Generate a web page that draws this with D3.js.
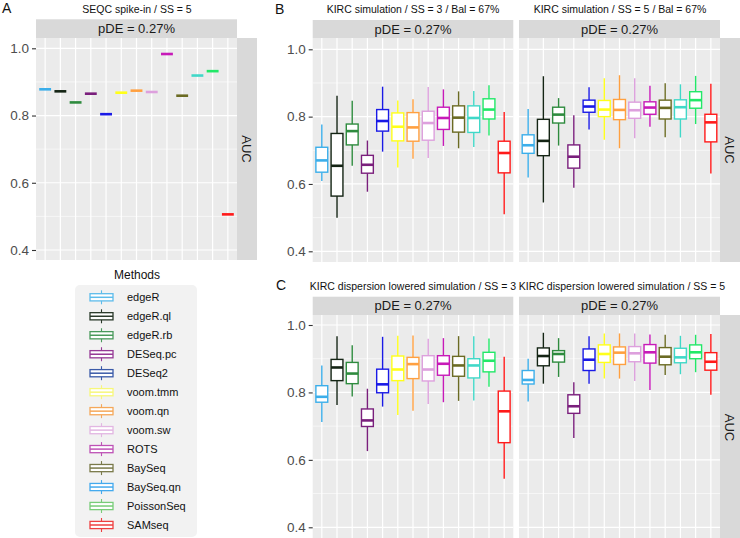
<!DOCTYPE html>
<html><head><meta charset="utf-8">
<script src="https://cdn.jsdelivr.net/npm/d3@7"></script>
<style>body{margin:0;background:#fff}svg{display:block;font-family:"Liberation Sans",Arial,sans-serif}</style>
</head><body><svg id="c" width="740" height="538"></svg>
<script>
const methods = ["edgeR","edgeR.ql","edgeR.rb","DESeq.pc","DESeq2","voom.tmm","voom.qn","voom.sw","ROTS","BaySeq","BaySeq.qn","PoissonSeq","SAMseq"];
const colors = ["#3BAEEA","#142414","#2E8B3E","#7A1F7C","#1A1AE6","#FFFF1A","#FFA040","#DDA0DD","#C71AB8","#6B6B23","#40D8C8","#22E868","#FF1A1A"];
const legendColors = ["#5DBCEB","#2A3A2A","#4A9A5C","#963A96","#3A5AA8","#F7F77A","#F5A85A","#E2B6E2","#BE52B6","#7A7A4A","#44AAEE","#78CC78","#EE4040"];
const yTicks = [0.4, 0.6, 0.8, 1.0];
const yMinor = [0.5, 0.7, 0.9];
// Panel A: single AUC value per method
const seqcSS5 = [0.878,0.872,0.839,0.865,0.804,0.868,0.874,0.870,0.983,0.859,0.919,0.932,0.506];
// [lower whisker, Q1, median, Q3, upper whisker]
const kircSS3 = [
 [0.609,0.635,0.670,0.709,0.777],[0.500,0.564,0.654,0.750,0.862],[0.654,0.716,0.757,0.778,0.847],
 [0.577,0.632,0.657,0.685,0.729],[0.696,0.757,0.787,0.821,0.889],[0.649,0.728,0.770,0.811,0.848],
 [0.675,0.727,0.768,0.812,0.852],[0.677,0.730,0.781,0.816,0.888],[0.713,0.762,0.796,0.828,0.881],
 [0.706,0.754,0.797,0.832,0.875],[0.710,0.753,0.796,0.832,0.876],[0.744,0.793,0.821,0.853,0.893],
 [0.510,0.633,0.692,0.727,0.814]];
const kircSS5 = [
 [0.619,0.691,0.715,0.746,0.823],[0.545,0.684,0.728,0.792,0.920],[0.714,0.781,0.806,0.828,0.855],
 [0.589,0.647,0.681,0.716,0.804],[0.762,0.813,0.830,0.849,0.887],[0.731,0.800,0.821,0.848,0.914],
 [0.706,0.791,0.820,0.851,0.923],[0.736,0.795,0.819,0.843,0.914],[0.770,0.807,0.827,0.844,0.892],
 [0.739,0.793,0.826,0.849,0.899],[0.738,0.793,0.828,0.850,0.896],[0.778,0.825,0.849,0.874,0.921],
 [0.631,0.725,0.783,0.807,0.898]];
const dispSS3 = [
 [0.712,0.771,0.787,0.820,0.880],[0.763,0.835,0.874,0.898,0.967],[0.788,0.826,0.856,0.889,0.940],
 [0.626,0.699,0.717,0.751,0.811],[0.758,0.799,0.824,0.869,0.965],[0.733,0.835,0.868,0.908,0.968],
 [0.746,0.841,0.884,0.904,0.969],[0.766,0.834,0.868,0.909,0.959],[0.771,0.851,0.885,0.909,0.961],
 [0.775,0.848,0.880,0.907,0.967],[0.776,0.843,0.880,0.900,0.967],[0.817,0.861,0.894,0.919,0.960],
 [0.544,0.651,0.744,0.804,0.906]];
const dispSS5 = [
 [0.773,0.825,0.837,0.865,0.900],[0.826,0.879,0.908,0.932,0.977],[0.846,0.890,0.914,0.924,0.961],
 [0.665,0.738,0.759,0.793,0.830],[0.826,0.865,0.897,0.929,0.967],[0.841,0.889,0.914,0.941,0.975],
 [0.841,0.883,0.918,0.935,0.975],[0.834,0.891,0.916,0.936,0.975],[0.807,0.887,0.919,0.942,0.972],
 [0.852,0.882,0.906,0.933,0.971],[0.854,0.888,0.904,0.931,0.968],[0.860,0.900,0.919,0.941,0.971],
 [0.793,0.866,0.891,0.918,0.973]];

const svg = d3.select("#c");
const panelBg = "#EBEBEB", stripBg = "#D9D9D9";

function panel(p){
  const g = svg.append("g");
  const x = d3.scalePoint().domain(methods).range([p.x0, p.x1]).padding(0.6);
  const y = d3.scaleLinear().domain([0.4, 1.0]).range([p.t04, p.t10]);
  const bw = x.step() * 0.78;
  g.append("rect").attr("x", p.x0).attr("y", p.y0).attr("width", p.x1 - p.x0).attr("height", p.y1 - p.y0).attr("fill", panelBg);
  g.selectAll(".mn").data(yMinor).join("line").attr("x1", p.x0).attr("x2", p.x1)
    .attr("y1", d => y(d)).attr("y2", d => y(d)).attr("stroke", "#fff").attr("stroke-width", 0.6);
  g.selectAll(".mj").data(yTicks).join("line").attr("x1", p.x0).attr("x2", p.x1)
    .attr("y1", d => y(d)).attr("y2", d => y(d)).attr("stroke", "#fff").attr("stroke-width", 1.2);
  g.selectAll(".vx").data(methods).join("line").attr("x1", d => x(d)).attr("x2", d => x(d))
    .attr("y1", p.y0).attr("y2", p.y1).attr("stroke", "#fff").attr("stroke-width", 1.2);
  // strip top
  g.append("rect").attr("x", p.x0).attr("y", p.sy).attr("width", p.x1 - p.x0).attr("height", p.y0 - p.sy).attr("fill", stripBg);
  g.append("text").attr("x", (p.x0 + p.x1) / 2).attr("y", (p.sy + p.y0) / 2 + 4.6).attr("text-anchor", "middle")
    .attr("font-size", 13).attr("fill", "#1A1A1A").text("pDE = 0.27%");
  if (p.auc) {
    g.append("rect").attr("x", p.x1).attr("y", p.y0).attr("width", 20).attr("height", p.y1 - p.y0).attr("fill", stripBg);
    const cx = p.x1 + 10, cy = (p.y0 + p.y1) / 2;
    g.append("text").attr("transform", `translate(${cx - 4.6},${cy}) rotate(90)`).attr("text-anchor", "middle")
      .attr("font-size", 13).attr("fill", "#1A1A1A").text("AUC");
  }
  if (p.axis) {
    const ax = g.append("g").attr("transform", `translate(${p.x0},0)`)
      .call(d3.axisLeft(y).tickValues(yTicks).tickFormat(d3.format(".1f")).tickSize(4).tickPadding(3));
    ax.select(".domain").remove();
    ax.selectAll("line").attr("stroke", "#333").attr("stroke-width", 1.1);
    ax.selectAll("text").attr("font-size", 13.5).attr("fill", "#4D4D4D").attr("font-family", "Liberation Sans, Arial, sans-serif");
  }
  const boxes = p.data.map((d, i) => ({m: methods[i], c: colors[i], s: Array.isArray(d) ? d : [d, d, d, d, d]}));
  const bg = g.selectAll(".bx").data(boxes).join("g");
  bg.append("line").attr("x1", d => x(d.m)).attr("x2", d => x(d.m)).attr("y1", d => y(d.s[4])).attr("y2", d => y(d.s[3]))
    .attr("stroke", d => d.c).attr("stroke-width", 1.4);
  bg.append("line").attr("x1", d => x(d.m)).attr("x2", d => x(d.m)).attr("y1", d => y(d.s[1])).attr("y2", d => y(d.s[0]))
    .attr("stroke", d => d.c).attr("stroke-width", 1.4);
  bg.append("rect").attr("x", d => x(d.m) - bw / 2).attr("width", bw)
    .attr("y", d => y(d.s[3])).attr("height", d => y(d.s[1]) - y(d.s[3]))
    .attr("fill", "#fff").attr("stroke", d => d.c).attr("stroke-width", 1.4);
  bg.append("line").attr("x1", d => x(d.m) - bw / 2).attr("x2", d => x(d.m) + bw / 2)
    .attr("y1", d => y(d.s[2])).attr("y2", d => y(d.s[2])).attr("stroke", d => d.c).attr("stroke-width", 2.6);
}

panel({x0: 36, x1: 237, y0: 38, y1: 260, sy: 19.3, t10: 48.3, t04: 250, data: seqcSS5, axis: true, auc: true});
panel({x0: 312.7, x1: 513.3, y0: 38, y1: 262, sy: 20, t10: 49.3, t04: 251.3, data: kircSS3, axis: true});
panel({x0: 519, x1: 720, y0: 38, y1: 262, sy: 20, t10: 49.3, t04: 251.3, data: kircSS5, auc: true});
panel({x0: 312.7, x1: 513.3, y0: 315, y1: 540, sy: 296.7, t10: 325, t04: 527.3, data: dispSS3, axis: true});
panel({x0: 519, x1: 720, y0: 315, y1: 540, sy: 296.7, t10: 325, t04: 527.3, data: dispSS5, auc: true});

// titles
const titles = [
  {t: "SEQC spike-in / SS = 5", x: 137, y: 12.5},
  {t: "KIRC simulation / SS = 3 / Bal = 67%", x: 413, y: 13},
  {t: "KIRC simulation / SS = 5 / Bal = 67%", x: 620, y: 13},
  {t: "KIRC dispersion lowered simulation / SS = 3", x: 413, y: 289.5},
  {t: "KIRC dispersion lowered simulation / SS = 5", x: 622, y: 289.5}
];
svg.selectAll(".ttl").data(titles).join("text").attr("x", d => d.x).attr("y", d => d.y).attr("text-anchor", "middle")
  .attr("font-size", 10.5).attr("fill", "#111").text(d => d.t);
const letters = [{t: "A", x: 2, y: 13}, {t: "B", x: 275, y: 13.5}, {t: "C", x: 276, y: 290}];
svg.selectAll(".lt").data(letters).join("text").attr("x", d => d.x).attr("y", d => d.y)
  .attr("font-size", 14).attr("fill", "#111").text(d => d.t);

// legend
svg.append("text").attr("x", 137).attr("y", 279).attr("text-anchor", "middle").attr("font-size", 12).attr("fill", "#111").text("Methods");
svg.append("rect").attr("x", 75).attr("y", 285).attr("width", 122).attr("height", 252).attr("rx", 5).attr("fill", "#F2F2F2");
const ly = d3.scalePoint().domain(methods).range([297.3, 525]);
const lg = svg.selectAll(".lg").data(methods).join("g").attr("transform", d => `translate(0,${ly(d)})`);
lg.append("line").attr("x1", 101.5).attr("x2", 101.5).attr("y1", -7).attr("y2", 7)
  .attr("stroke", (d, i) => legendColors[i]).attr("stroke-width", 1.1);
lg.append("rect").attr("x", 90).attr("y", -3.6).attr("width", 23).attr("height", 7.2).attr("fill", "#fff")
  .attr("stroke", (d, i) => legendColors[i]).attr("stroke-width", 1.3);
lg.append("line").attr("x1", 90).attr("x2", 113).attr("y1", 0).attr("y2", 0)
  .attr("stroke", (d, i) => legendColors[i]).attr("stroke-width", 1.5);
lg.append("text").attr("x", 127).attr("y", 4).attr("font-size", 11).attr("fill", "#111").text(d => d);
</script></body></html>
